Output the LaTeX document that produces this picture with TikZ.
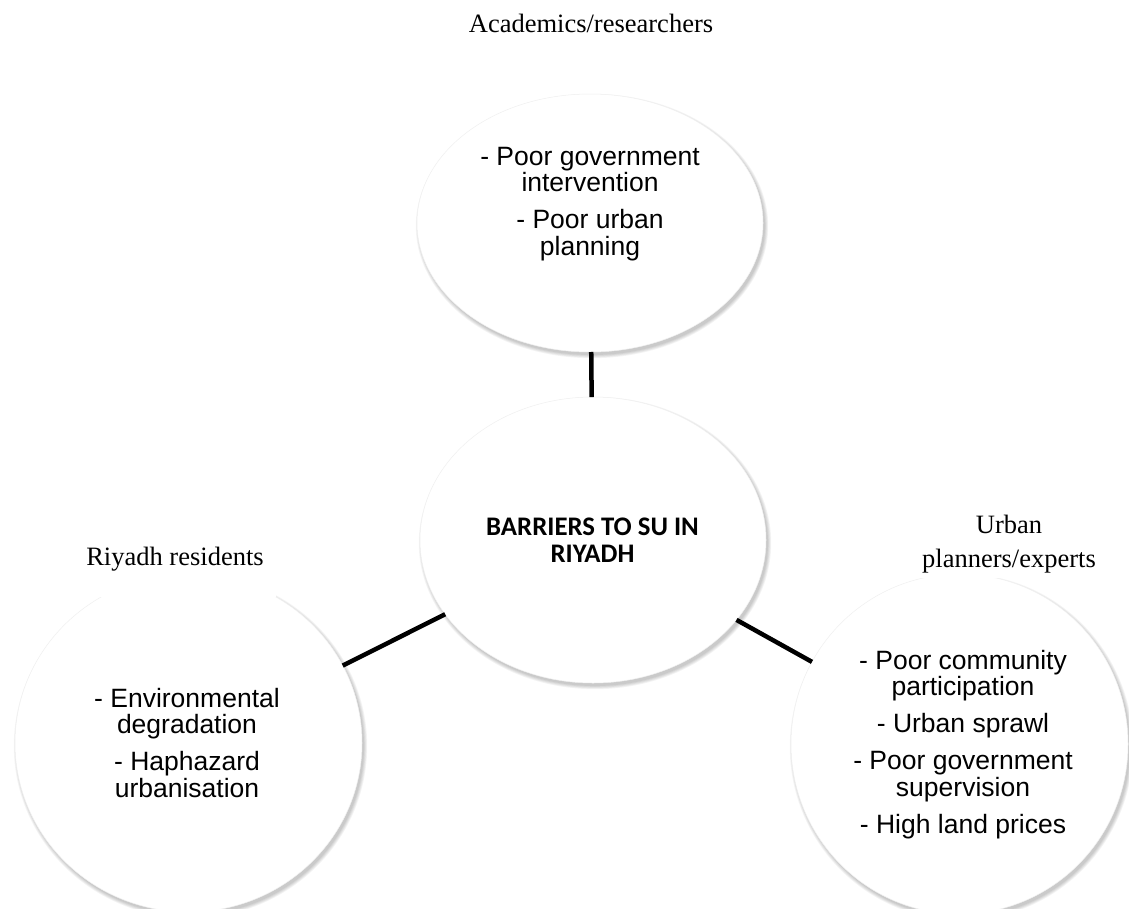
\documentclass[tikz,border=0pt]{standalone}
\usepackage{fontspec}
\setmainfont{Liberation Serif}
\newfontfamily\itemfont{Liberation Sans}
\newfontfamily\titlefont{Carlito}
\usetikzlibrary{shapes.geometric}

\begin{document}
\begin{tikzpicture}[x=1pt,y=-1pt,
  bubble/.style={ellipse, fill=white, draw=black!6, line width=0.5pt,
                 inner sep=0pt, outer sep=0pt},
  itemtext/.style={align=center, anchor=base, inner sep=0pt,
                   font=\itemfont\fontsize{26.5}{26.5}\selectfont},
  titletext/.style={align=center, anchor=base, inner sep=0pt,
                    font=\titlefont\bfseries\fontsize{26.8}{27}\selectfont},
  grouplabel/.style={align=center, anchor=base, fill=white, inner ysep=0pt,
                     inner xsep=12pt, font=\fontsize{26.5}{34}\selectfont},
  connector/.style={line width=4.5pt, black}
]
\useasboundingbox[fill=white] (0,0) rectangle (1129,908);

% centres of the four bubbles
\coordinate (pT) at (590,223);
\coordinate (pC) at (593,540);
\coordinate (pL) at (188.5,743);
\coordinate (pR) at (959.5,744);

% soft drop shadows under the bubbles
\foreach \p/\rx/\ry in {pT/173/129, pC/173/143, pL/173.5/169, pR/168.5/170}{
  \foreach \k in {0,...,4}{
    \fill[black, opacity=0.045] ([shift={(2,3)}]\p)
      ellipse [x radius=\rx+\k*0.8, y radius=\ry+\k*0.8];
  }
}

% bubbles
\node[bubble, minimum width=346pt, minimum height=258pt] (top)    at (pT) {};
\node[bubble, minimum width=346pt, minimum height=286pt] (centre) at (pC) {};
\node[bubble, minimum width=347pt, minimum height=338pt] (left)   at (pL) {};
\node[bubble, minimum width=337pt, minimum height=340pt] (right)  at (pR) {};

% connectors
\draw[connector] (top) -- (centre);
\draw[connector] (centre) -- (left);
\draw[connector] (centre) -- (right);

% bubble contents (anchored on the baseline of the last line)
\node[titletext] (tC) at (592.5,562) {BARRIERS TO SU IN\\RIYADH};
\node[itemtext] (tT) at (590,255)
  {- Poor government\\intervention\\[10.5pt]- Poor urban\\planning};
\node[itemtext] (tL) at (187,797)
  {- Environmental\\degradation\\[10.5pt]- Haphazard\\urbanisation};
\node[itemtext] (tR) at (963,833)
  {- Poor community\\participation\\[10.5pt]- Urban sprawl\\[10.5pt]- Poor government\\supervision\\[10.5pt]- High land prices};

% stakeholder group labels
\node[grouplabel, fill=none] (gT) at (591,32) {Academics/researchers};
\node[grouplabel, text depth=32pt] (gL) at (175,565) {Riyadh residents};
\node[grouplabel, text depth=11pt] (gR) at (1009,567) {Urban\\planners/experts};
\end{tikzpicture}
\end{document}
